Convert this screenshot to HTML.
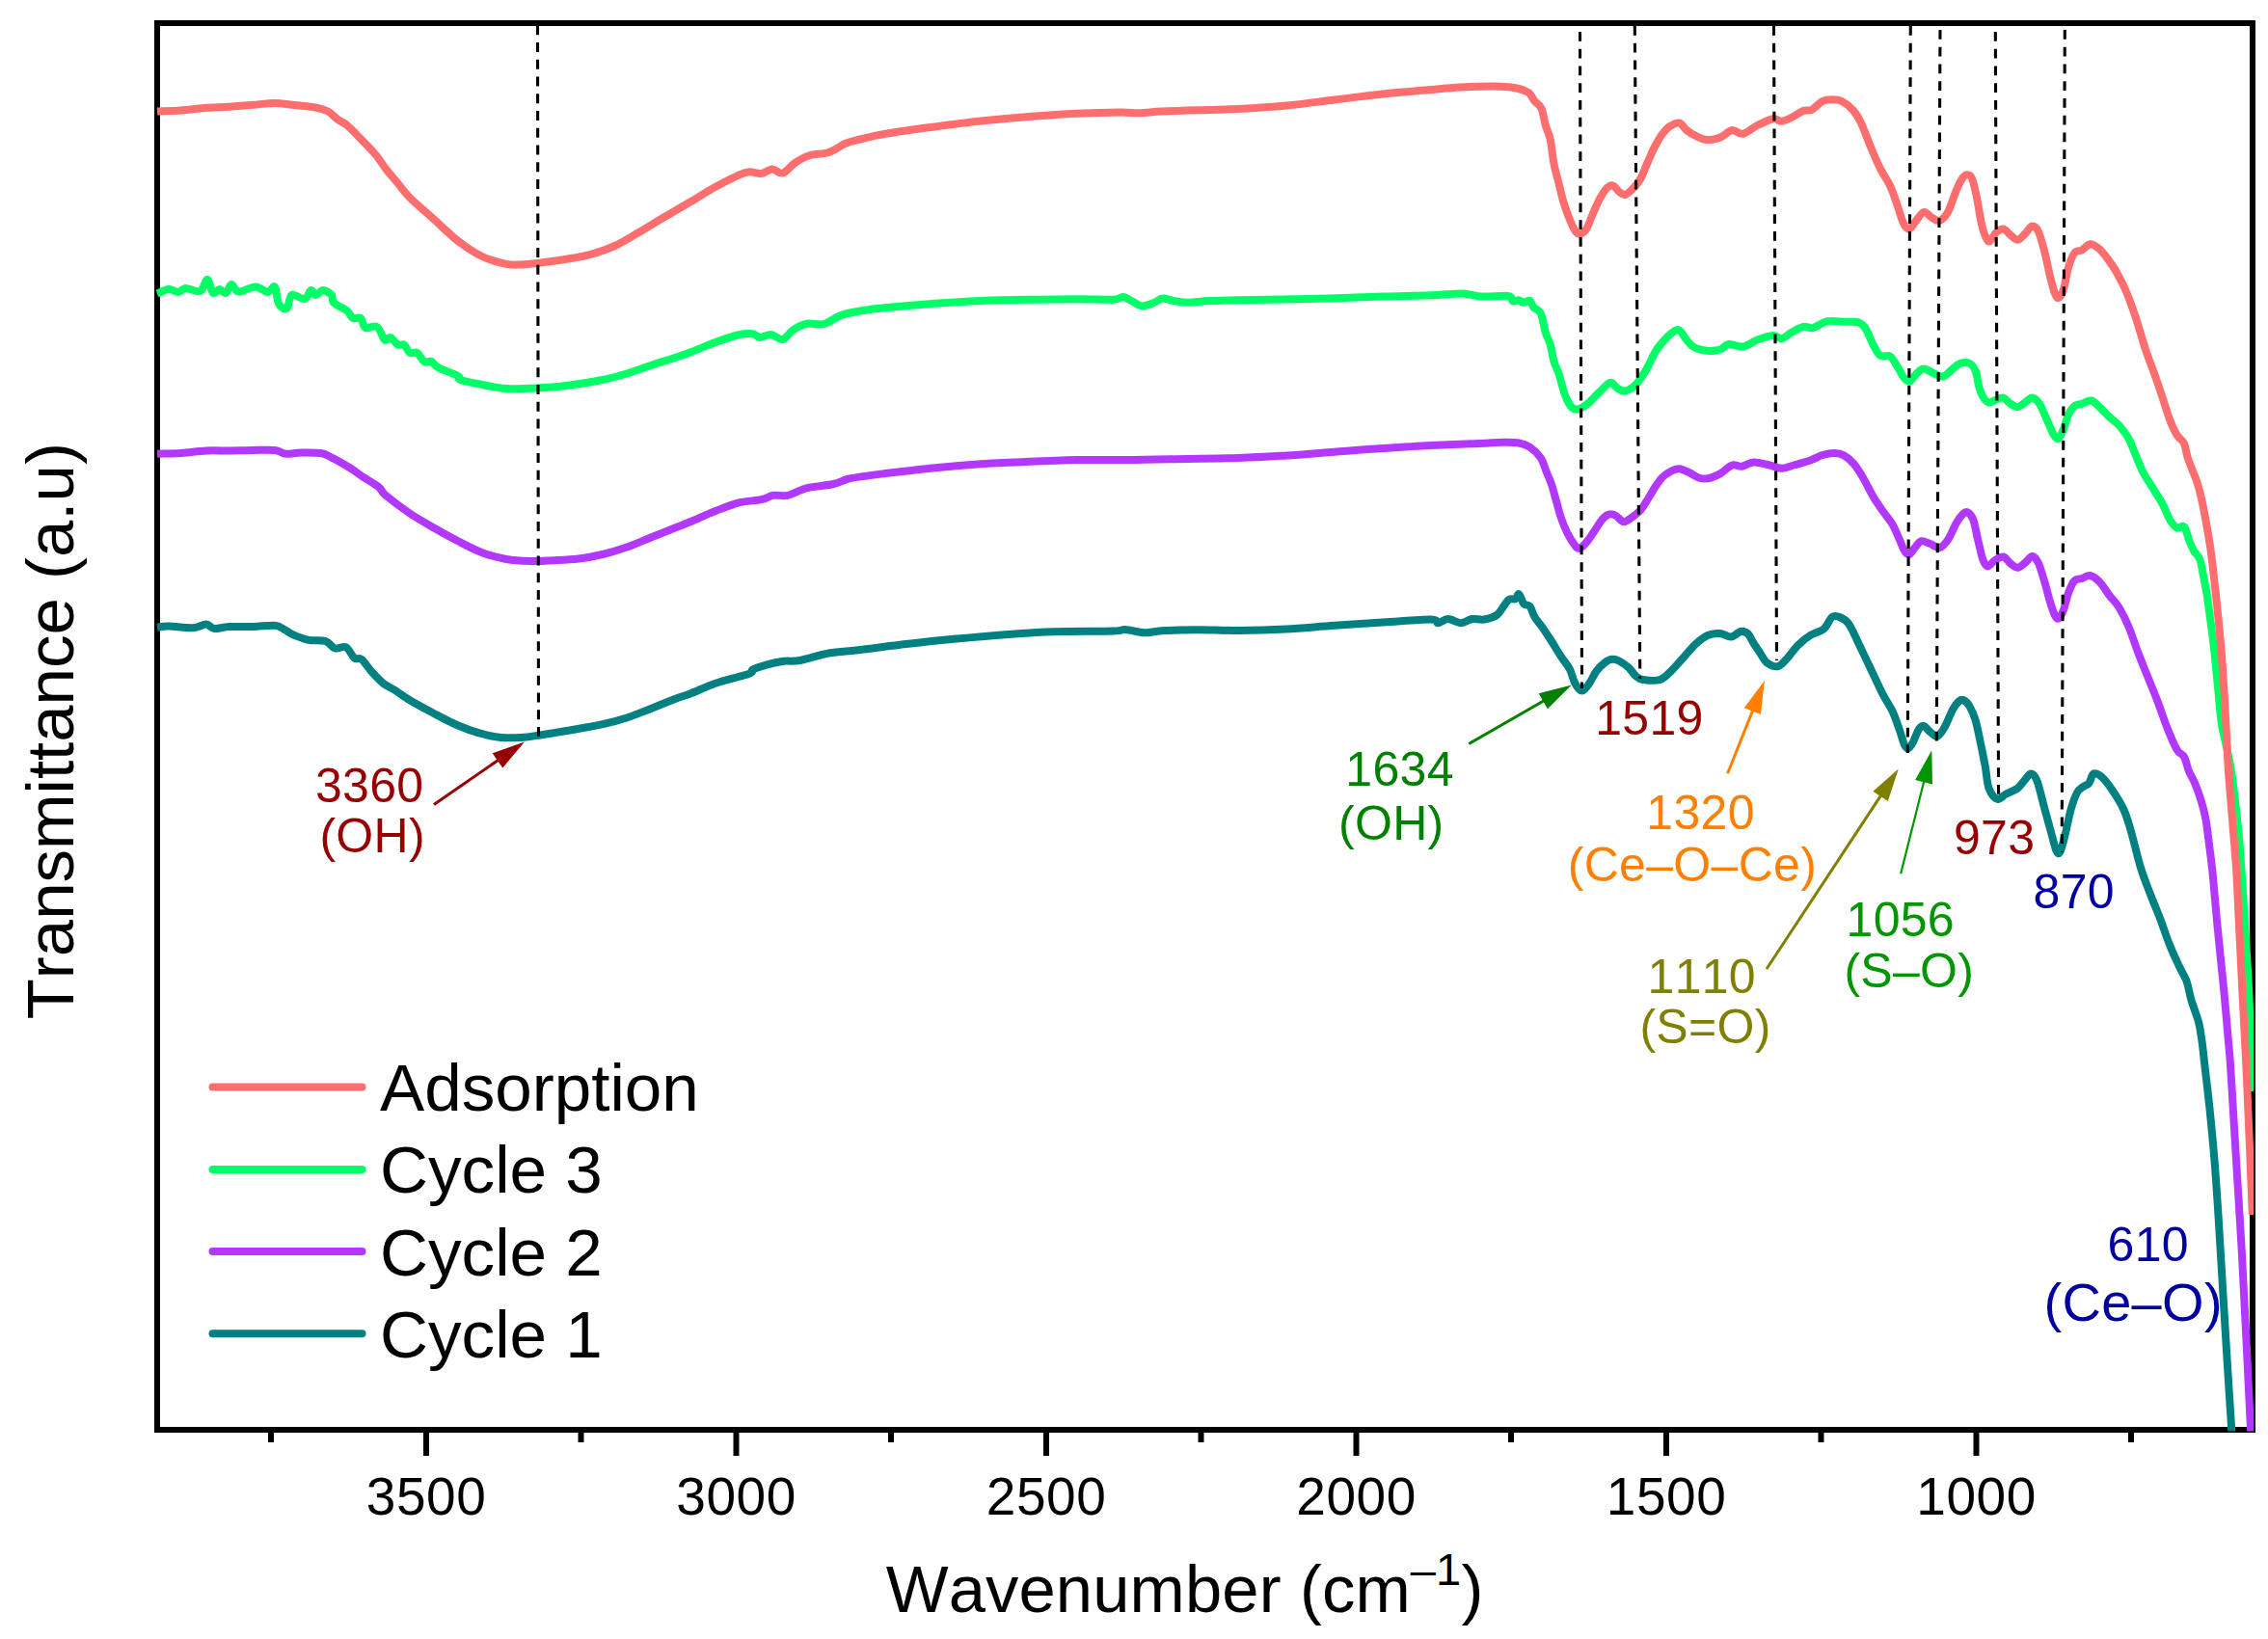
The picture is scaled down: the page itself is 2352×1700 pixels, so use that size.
<!DOCTYPE html><html><head><meta charset="utf-8"><title>FTIR spectra</title>
<style>html,body{margin:0;padding:0;background:#fff;overflow:hidden;width:2352px;height:1700px;}svg{display:block}text{font-family:"Liberation Sans",sans-serif;font-kerning:none;}</style></head><body>
<svg width="2352" height="1700" viewBox="0 0 2352 1700">
<rect width="2352" height="1700" fill="#fff"/>
<defs><clipPath id="cp"><rect x="160" y="21" width="2177" height="1463.5"/></clipPath></defs>
<rect x="163" y="24" width="2173" height="1459" fill="none" stroke="#000" stroke-width="6"/>
<line x1="442" y1="1483" x2="442" y2="1510" stroke="#000" stroke-width="6"/>
<line x1="763.5" y1="1483" x2="763.5" y2="1510" stroke="#000" stroke-width="6"/>
<line x1="1085" y1="1483" x2="1085" y2="1510" stroke="#000" stroke-width="6"/>
<line x1="1406.5" y1="1483" x2="1406.5" y2="1510" stroke="#000" stroke-width="6"/>
<line x1="1728" y1="1483" x2="1728" y2="1510" stroke="#000" stroke-width="6"/>
<line x1="2049.5" y1="1483" x2="2049.5" y2="1510" stroke="#000" stroke-width="6"/>
<line x1="281" y1="1483" x2="281" y2="1496" stroke="#000" stroke-width="6"/>
<line x1="602.5" y1="1483" x2="602.5" y2="1496" stroke="#000" stroke-width="6"/>
<line x1="924" y1="1483" x2="924" y2="1496" stroke="#000" stroke-width="6"/>
<line x1="1245.5" y1="1483" x2="1245.5" y2="1496" stroke="#000" stroke-width="6"/>
<line x1="1567" y1="1483" x2="1567" y2="1496" stroke="#000" stroke-width="6"/>
<line x1="1888.5" y1="1483" x2="1888.5" y2="1496" stroke="#000" stroke-width="6"/>
<line x1="2210" y1="1483" x2="2210" y2="1496" stroke="#000" stroke-width="6"/>
<text x="442.1" y="1571.3" font-size="55" letter-spacing="0.6" text-anchor="middle" fill="#000">3500</text>
<text x="763.6" y="1571.3" font-size="55" letter-spacing="0.6" text-anchor="middle" fill="#000">3000</text>
<text x="1085.1" y="1571.3" font-size="55" letter-spacing="0.6" text-anchor="middle" fill="#000">2500</text>
<text x="1406.6" y="1571.3" font-size="55" letter-spacing="0.6" text-anchor="middle" fill="#000">2000</text>
<text x="1728.1" y="1571.3" font-size="55" letter-spacing="0.6" text-anchor="middle" fill="#000">1500</text>
<text x="2049.6" y="1571.3" font-size="55" letter-spacing="0.6" text-anchor="middle" fill="#000">1000</text>
<text x="918.7" y="1671.5" font-size="68.7" letter-spacing="0.15" fill="#000">Wavenumber (cm<tspan font-size="47" dy="-27.9">–1</tspan><tspan dy="27.9">)</tspan></text>
<text transform="translate(75.5 758.2) rotate(-90)" font-size="69" text-anchor="middle" fill="#000">Transmittance (a.u)</text>
<g clip-path="url(#cp)" fill="none" stroke-width="8" stroke-linejoin="round" stroke-linecap="butt">
<path d="M163.0 650.8C165.0 650.5 168.8 649.4 175.0 649.5C181.2 649.6 193.5 651.6 200.0 651.2C206.5 650.9 210.0 647.4 213.8 647.5C217.5 647.6 218.5 651.6 222.5 652.0C226.5 652.4 230.8 650.3 237.5 650.0C244.2 649.7 254.6 650.2 262.5 650.0C270.4 649.8 279.6 648.2 285.0 648.8C290.4 649.2 291.7 651.3 295.0 653.0C298.3 654.7 300.8 657.0 305.0 658.8C309.2 660.5 314.6 662.7 320.0 663.8C325.4 664.8 332.9 663.5 337.5 665.0C342.1 666.5 344.0 671.5 347.5 672.5C351.0 673.5 355.4 669.6 358.8 671.2C362.1 672.9 364.8 680.4 367.5 682.5C370.2 684.6 372.1 681.5 375.0 683.8C377.9 686.0 381.2 692.1 385.0 696.2C388.8 700.4 393.3 705.4 397.5 708.8C401.7 712.1 405.4 713.3 410.0 716.2C414.6 719.2 418.3 722.3 425.0 726.2C431.7 730.2 441.7 735.6 450.0 740.0C458.3 744.4 466.7 749.0 475.0 752.5C483.3 756.0 492.5 759.2 500.0 761.2C507.5 763.3 513.3 764.4 520.0 765.0C526.7 765.6 533.3 765.4 540.0 765.0C546.7 764.6 552.1 763.7 560.0 762.5C567.9 761.3 576.7 759.9 587.5 758.0C598.3 756.1 614.6 753.5 625.0 751.2C635.4 749.0 641.7 747.2 650.0 744.5C658.3 741.8 666.7 738.2 675.0 735.0C683.3 731.8 693.0 727.7 700.0 725.0C707.0 722.3 710.0 721.7 717.0 719.0C724.0 716.3 732.0 712.1 742.0 708.8C752.0 705.4 770.3 701.2 777.0 698.8C783.7 696.2 776.6 695.8 782.0 693.8C787.4 691.7 801.6 687.7 809.5 686.2C817.4 684.8 821.2 686.5 829.5 685.0C837.8 683.5 849.1 679.3 859.5 677.5C869.9 675.7 878.2 675.6 892.0 674.0C905.8 672.4 925.3 669.7 942.0 667.8C958.7 665.9 975.3 664.2 992.0 662.6C1008.7 661.0 1025.3 659.5 1042.0 658.3C1058.7 657.1 1073.2 655.8 1092.0 655.2C1110.8 654.6 1142.0 654.9 1154.5 654.5C1167.0 654.1 1161.6 652.7 1167.0 653.0C1172.4 653.3 1180.8 656.0 1187.0 656.2C1193.2 656.5 1195.3 654.8 1204.5 654.2C1213.7 653.8 1228.8 653.3 1242.0 653.2C1255.2 653.2 1268.7 654.1 1284.0 654.0C1299.3 653.9 1317.3 653.4 1334.0 652.5C1350.7 651.6 1367.3 649.9 1384.0 648.8C1400.7 647.6 1417.3 646.5 1434.0 645.5C1450.7 644.5 1474.4 642.4 1484.0 642.5C1493.6 642.6 1488.6 646.3 1491.5 646.2C1494.4 646.2 1497.5 642.0 1501.5 642.0C1505.5 642.0 1511.1 646.2 1515.2 646.2C1519.4 646.2 1522.5 642.6 1526.5 642.0C1530.5 641.4 1534.6 643.2 1539.0 642.5C1543.4 641.8 1548.6 640.8 1552.8 637.5C1556.9 634.2 1560.9 625.2 1564.0 622.5C1567.1 619.8 1569.6 622.3 1571.5 621.2C1573.4 620.2 1573.8 615.4 1575.2 616.2C1576.7 617.1 1578.4 624.2 1580.2 626.2C1582.1 628.3 1584.6 626.5 1586.5 628.8C1588.4 631.0 1589.4 636.5 1591.5 640.0C1593.6 643.5 1596.1 645.8 1599.0 650.0C1601.9 654.2 1605.7 659.8 1609.0 665.0C1612.3 670.2 1615.9 676.5 1619.0 681.2C1622.1 686.0 1625.5 689.4 1627.8 693.8C1630.0 698.1 1631.1 704.0 1632.8 707.5C1634.4 711.0 1636.2 713.6 1637.8 715.0C1639.3 716.4 1640.2 717.0 1642.0 716.0C1643.8 715.0 1646.0 712.0 1648.2 708.8C1650.5 705.5 1652.9 699.8 1655.5 696.2C1658.1 692.7 1661.3 689.6 1664.0 687.5C1666.7 685.4 1669.0 684.1 1671.5 683.8C1674.0 683.4 1676.1 684.0 1679.0 685.5C1681.9 687.0 1686.1 689.9 1689.0 692.5C1691.9 695.1 1694.0 699.2 1696.5 701.2C1699.0 703.3 1699.8 704.4 1704.0 705.0C1708.2 705.6 1716.5 706.7 1721.5 705.0C1726.5 703.3 1729.8 699.0 1734.0 695.0C1738.2 691.0 1742.3 685.8 1746.5 681.2C1750.7 676.7 1754.8 671.2 1759.0 667.5C1763.2 663.8 1767.3 660.5 1771.5 658.8C1775.7 657.0 1780.0 656.7 1784.0 657.0C1788.0 657.3 1791.7 660.8 1795.2 660.5C1798.8 660.2 1802.3 655.5 1805.2 655.0C1808.2 654.5 1810.5 655.4 1812.8 657.5C1815.0 659.6 1816.5 664.0 1818.8 667.5C1821.0 671.0 1824.0 675.4 1826.2 678.8C1828.5 682.1 1829.6 685.4 1832.5 687.5C1835.4 689.6 1840.4 691.9 1843.8 691.2C1847.1 690.6 1849.0 687.5 1852.5 683.8C1856.0 680.0 1860.8 672.9 1865.0 668.8C1869.2 664.6 1873.1 661.5 1877.5 658.8C1881.9 656.0 1887.5 655.6 1891.2 652.5C1895.0 649.4 1897.1 642.0 1900.0 640.0C1902.9 638.0 1905.8 639.2 1908.8 640.5C1911.7 641.8 1914.4 643.0 1917.5 647.5C1920.6 652.0 1923.8 659.8 1927.5 667.5C1931.2 675.2 1935.8 685.0 1940.0 693.8C1944.2 702.5 1948.8 712.7 1952.5 720.0C1956.2 727.3 1959.6 731.2 1962.5 737.5C1965.4 743.8 1967.9 751.7 1970.0 757.5C1972.1 763.3 1973.5 769.4 1975.0 772.5C1976.5 775.6 1977.3 776.7 1978.8 776.2C1980.2 775.8 1981.9 773.3 1983.8 770.0C1985.6 766.7 1988.1 759.1 1990.0 756.2C1991.9 753.4 1993.1 752.6 1995.0 753.0C1996.9 753.4 1999.0 757.0 2001.2 758.8C2003.5 760.5 2006.2 764.4 2008.8 763.8C2011.2 763.1 2013.5 759.6 2016.2 755.0C2019.0 750.4 2022.5 740.8 2025.0 736.2C2027.5 731.7 2029.4 729.2 2031.2 727.5C2033.1 725.8 2034.4 725.4 2036.2 726.2C2038.1 727.1 2040.4 729.0 2042.5 732.5C2044.6 736.0 2046.9 741.2 2048.8 747.5C2050.6 753.8 2052.1 762.1 2053.8 770.0C2055.4 777.9 2057.3 787.1 2058.8 795.0C2060.2 802.9 2060.4 811.9 2062.5 817.5C2064.6 823.1 2068.3 827.7 2071.2 828.8C2074.2 829.8 2076.5 825.6 2080.0 823.8C2083.5 821.9 2089.2 820.0 2092.5 817.5C2095.8 815.0 2097.7 811.2 2100.0 808.8C2102.3 806.2 2104.2 802.3 2106.2 802.5C2108.3 802.7 2110.2 804.2 2112.5 810.0C2114.8 815.8 2117.5 828.3 2120.0 837.5C2122.5 846.7 2125.4 857.5 2127.5 865.0C2129.6 872.5 2131.0 879.4 2132.5 882.5C2134.0 885.6 2134.8 886.2 2136.2 883.8C2137.7 881.2 2139.4 874.8 2141.2 867.5C2143.1 860.2 2145.4 847.5 2147.5 840.0C2149.6 832.5 2151.7 826.5 2153.8 822.5C2155.8 818.5 2157.9 817.9 2160.0 816.2C2162.1 814.6 2164.4 814.8 2166.2 812.5C2168.1 810.2 2169.0 803.5 2171.2 802.5C2173.5 801.5 2176.9 803.5 2180.0 806.2C2183.1 809.0 2186.2 813.1 2190.0 818.8C2193.8 824.4 2199.2 832.7 2202.5 840.0C2205.8 847.3 2207.1 852.5 2210.0 862.5C2212.9 872.5 2216.7 889.2 2220.0 900.0C2223.3 910.8 2226.7 918.8 2230.0 927.5C2233.3 936.2 2236.7 943.8 2240.0 952.5C2243.3 961.2 2246.7 971.7 2250.0 980.0C2253.3 988.3 2257.1 996.2 2260.0 1002.5C2262.9 1008.8 2265.4 1011.7 2267.5 1017.5C2269.6 1023.3 2270.4 1030.4 2272.5 1037.5C2274.6 1044.6 2278.2 1052.9 2280.0 1060.0C2281.8 1067.1 2282.5 1073.3 2283.5 1080.0C2284.5 1086.7 2284.5 1088.3 2285.8 1100.0C2287.1 1111.7 2289.8 1133.3 2291.5 1150.0C2293.2 1166.7 2294.8 1183.3 2296.2 1200.0C2297.6 1216.7 2298.7 1233.3 2299.8 1250.0C2300.9 1266.7 2301.8 1281.7 2302.9 1300.0C2304.0 1318.3 2305.2 1339.2 2306.5 1360.0C2307.8 1380.8 2309.2 1404.6 2310.5 1425.0C2311.8 1445.4 2313.5 1471.3 2314.2 1482.5C2314.9 1493.7 2314.7 1490.4 2314.8 1492.0" stroke="#008080"/>
<path d="M163.0 470.8C167.1 470.6 179.0 470.5 187.5 470.0C196.0 469.5 205.4 467.9 213.8 467.5C222.1 467.1 229.4 467.6 237.5 467.5C245.6 467.4 254.6 467.1 262.5 467.0C270.4 466.9 279.4 466.4 285.0 467.0C290.6 467.6 291.7 470.3 296.2 470.8C300.8 471.2 306.5 469.6 312.5 469.5C318.5 469.4 327.5 469.3 332.5 470.0C337.5 470.7 337.5 471.2 342.5 473.8C347.5 476.2 357.1 481.7 362.5 485.0C367.9 488.3 370.0 490.4 375.0 493.8C380.0 497.1 388.3 501.7 392.5 505.0C396.7 508.3 394.6 509.2 400.0 513.8C405.4 518.3 416.7 526.9 425.0 532.5C433.3 538.1 441.7 542.7 450.0 547.5C458.3 552.3 466.7 557.0 475.0 561.2C483.3 565.5 491.7 570.1 500.0 573.2C508.3 576.4 516.7 578.5 525.0 580.0C533.3 581.5 541.7 581.8 550.0 582.0C558.3 582.2 566.7 581.7 575.0 581.2C583.3 580.8 591.7 580.5 600.0 579.5C608.3 578.5 616.7 577.0 625.0 575.0C633.3 573.0 641.7 570.4 650.0 567.5C658.3 564.6 666.7 560.8 675.0 557.5C683.3 554.2 693.0 550.3 700.0 547.5C707.0 544.7 710.0 543.7 717.0 540.8C724.0 537.8 733.7 533.2 742.0 530.0C750.3 526.8 759.1 523.2 767.0 521.2C774.9 519.3 783.7 519.5 789.5 518.2C795.3 517.0 797.4 514.5 802.0 513.8C806.6 513.0 811.2 515.0 817.0 513.8C822.8 512.5 829.1 508.2 837.0 506.2C844.9 504.3 857.0 503.7 864.5 502.0C872.0 500.3 873.2 498.0 882.0 496.2C890.8 494.5 902.8 493.0 917.0 491.2C931.2 489.5 950.3 487.2 967.0 485.5C983.7 483.8 1000.3 482.4 1017.0 481.2C1033.7 480.1 1050.3 479.5 1067.0 478.8C1083.7 478.0 1100.3 477.3 1117.0 477.0C1133.7 476.7 1150.3 477.1 1167.0 477.0C1183.7 476.9 1197.5 476.6 1217.0 476.2C1236.5 475.9 1264.5 475.6 1284.0 475.0C1303.5 474.4 1317.3 473.5 1334.0 472.5C1350.7 471.5 1367.3 470.0 1384.0 468.8C1400.7 467.5 1417.3 466.1 1434.0 465.0C1450.7 463.9 1467.3 462.8 1484.0 462.0C1500.7 461.2 1521.5 460.5 1534.0 460.0C1546.5 459.5 1552.1 458.8 1559.0 458.8C1565.9 458.7 1570.7 458.7 1575.2 459.5C1579.8 460.3 1582.8 461.2 1586.5 463.8C1590.2 466.3 1594.8 470.6 1597.8 475.0C1600.7 479.4 1602.1 485.4 1604.0 490.0C1605.9 494.6 1607.3 497.5 1609.0 502.5C1610.7 507.5 1612.3 514.2 1614.0 520.0C1615.7 525.8 1617.1 532.1 1619.0 537.5C1620.9 542.9 1623.0 547.9 1625.2 552.5C1627.5 557.1 1630.7 562.3 1632.8 565.0C1634.8 567.7 1635.7 569.2 1637.8 568.8C1639.8 568.3 1642.5 565.6 1645.2 562.5C1648.0 559.4 1651.3 554.0 1654.0 550.0C1656.7 546.0 1659.2 541.5 1661.5 538.8C1663.8 536.0 1665.5 534.5 1667.8 533.8C1670.0 533.0 1672.5 533.2 1675.2 534.5C1678.0 535.8 1681.1 541.0 1684.0 541.2C1686.9 541.5 1689.8 538.3 1692.8 536.2C1695.7 534.2 1698.8 531.9 1701.5 528.8C1704.2 525.6 1706.5 521.5 1709.0 517.5C1711.5 513.5 1714.0 508.8 1716.5 505.0C1719.0 501.2 1721.3 497.7 1724.0 495.0C1726.7 492.3 1729.8 490.2 1732.8 488.8C1735.7 487.3 1738.4 486.0 1741.5 486.2C1744.6 486.5 1748.2 488.5 1751.5 490.0C1754.8 491.5 1758.2 494.5 1761.5 495.5C1764.8 496.5 1767.8 497.0 1771.5 496.2C1775.2 495.5 1779.9 493.5 1784.0 491.2C1788.1 489.0 1792.5 483.8 1796.2 482.5C1800.0 481.2 1802.5 484.2 1806.2 483.8C1810.0 483.2 1814.0 479.7 1818.8 479.5C1823.5 479.3 1830.2 481.5 1835.0 482.5C1839.8 483.5 1843.3 485.8 1847.5 485.8C1851.7 485.8 1855.0 483.9 1860.0 482.5C1865.0 481.1 1872.5 479.2 1877.5 477.5C1882.5 475.8 1885.8 473.2 1890.0 472.0C1894.2 470.8 1898.8 469.9 1902.5 470.0C1906.2 470.1 1909.2 470.6 1912.5 472.5C1915.8 474.4 1919.2 477.3 1922.5 481.2C1925.8 485.2 1929.2 490.6 1932.5 496.2C1935.8 501.9 1939.2 509.4 1942.5 515.0C1945.8 520.6 1949.2 525.2 1952.5 530.0C1955.8 534.8 1959.6 538.8 1962.5 543.8C1965.4 548.8 1967.9 555.4 1970.0 560.0C1972.1 564.6 1973.3 568.8 1975.0 571.2C1976.7 573.8 1978.1 575.6 1980.0 575.0C1981.9 574.4 1984.2 569.8 1986.2 567.5C1988.3 565.2 1990.0 561.9 1992.5 561.2C1995.0 560.6 1998.1 562.6 2001.2 563.8C2004.4 564.9 2008.1 568.6 2011.2 568.0C2014.4 567.4 2017.1 564.2 2020.0 560.0C2022.9 555.8 2026.2 546.9 2028.8 542.5C2031.2 538.1 2033.1 535.6 2035.0 533.8C2036.9 531.9 2038.1 530.4 2040.0 531.2C2041.9 532.1 2044.4 534.0 2046.2 538.8C2048.1 543.5 2049.6 553.1 2051.2 560.0C2052.9 566.9 2054.6 575.4 2056.2 580.0C2057.9 584.6 2059.2 587.3 2061.2 587.5C2063.3 587.7 2066.0 582.9 2068.8 581.2C2071.5 579.6 2074.8 577.0 2077.5 577.5C2080.2 578.0 2082.5 582.6 2085.0 584.5C2087.5 586.4 2090.0 588.9 2092.5 588.8C2095.0 588.6 2097.5 585.7 2100.0 583.8C2102.5 581.8 2105.2 577.0 2107.5 577.0C2109.8 577.0 2111.7 579.5 2113.8 583.8C2115.8 588.0 2117.9 595.6 2120.0 602.5C2122.1 609.4 2124.4 619.0 2126.2 625.0C2128.1 631.0 2129.8 636.0 2131.2 638.8C2132.7 641.5 2133.5 642.3 2135.0 641.2C2136.5 640.2 2138.3 636.9 2140.0 632.5C2141.7 628.1 2143.1 620.0 2145.0 615.0C2146.9 610.0 2149.0 605.0 2151.2 602.5C2153.5 600.0 2156.0 600.9 2158.8 600.0C2161.5 599.1 2164.4 596.4 2167.5 597.0C2170.6 597.6 2174.2 600.3 2177.5 603.8C2180.8 607.2 2184.2 613.1 2187.5 617.5C2190.8 621.9 2194.2 624.6 2197.5 630.0C2200.8 635.4 2204.2 642.1 2207.5 650.0C2210.8 657.9 2214.2 668.8 2217.5 677.5C2220.8 686.2 2224.2 694.2 2227.5 702.5C2230.8 710.8 2234.2 718.8 2237.5 727.5C2240.8 736.2 2244.2 746.7 2247.5 755.0C2250.8 763.3 2254.6 772.5 2257.5 777.5C2260.4 782.5 2262.9 781.2 2265.0 785.0C2267.1 788.8 2268.1 795.4 2270.0 800.0C2271.9 804.6 2274.2 807.5 2276.2 812.5C2278.3 817.5 2280.6 823.8 2282.5 830.0C2284.4 836.2 2286.0 841.7 2287.5 850.0C2289.0 858.3 2290.2 870.0 2291.5 880.0C2292.8 890.0 2293.8 897.5 2295.0 910.0C2296.2 922.5 2297.7 940.8 2299.0 955.0C2300.3 969.2 2301.7 981.7 2303.0 995.0C2304.3 1008.3 2305.8 1021.7 2307.0 1035.0C2308.2 1048.3 2309.6 1064.2 2310.5 1075.0C2311.4 1085.8 2311.8 1087.5 2312.7 1100.0C2313.6 1112.5 2314.8 1133.3 2315.8 1150.0C2316.8 1166.7 2317.8 1183.3 2318.8 1200.0C2319.8 1216.7 2320.9 1233.3 2321.9 1250.0C2322.9 1266.7 2323.7 1278.3 2324.9 1300.0C2326.1 1321.7 2327.5 1349.6 2329.0 1380.0C2330.5 1410.4 2333.1 1463.8 2334.0 1482.5C2334.9 1501.2 2334.4 1490.4 2334.5 1492.0" stroke="#B338FF"/>
<path d="M163.0 304.5C165.0 303.8 171.3 300.2 175.0 300.0C178.7 299.8 182.1 303.2 185.0 303.0C187.9 302.8 188.8 299.2 192.5 299.0C196.2 298.8 203.8 303.5 207.5 302.0C211.2 300.5 212.8 289.7 215.0 290.0C217.2 290.3 218.9 302.3 221.0 304.0C223.1 305.7 225.3 300.0 227.5 300.0C229.7 300.0 231.9 304.8 234.0 304.0C236.1 303.2 237.8 295.2 240.0 295.0C242.2 294.8 243.3 302.1 247.5 302.5C251.7 302.9 260.0 297.4 265.0 297.5C270.0 297.6 274.2 303.0 277.5 303.0C280.8 303.0 283.1 295.5 285.0 297.5C286.9 299.5 286.9 311.2 289.0 315.0C291.1 318.8 295.2 321.5 297.5 320.0C299.8 318.5 299.4 307.7 302.5 306.0C305.6 304.3 312.7 310.8 316.0 310.0C319.3 309.2 320.6 301.7 322.5 301.0C324.4 300.3 325.4 306.0 327.5 306.0C329.6 306.0 332.2 301.0 335.0 301.0C337.8 301.0 342.2 303.8 344.0 306.0C345.8 308.2 343.3 311.2 346.0 314.0C348.7 316.8 356.7 319.8 360.0 322.5C363.3 325.2 363.7 328.8 366.0 330.0C368.3 331.2 371.8 328.3 374.0 330.0C376.2 331.7 376.2 338.5 379.0 340.0C381.8 341.5 387.7 336.9 391.0 339.0C394.3 341.1 396.7 350.7 399.0 352.5C401.3 354.3 402.8 349.2 405.0 350.0C407.2 350.8 410.2 356.2 412.5 357.5C414.8 358.8 416.9 356.1 419.0 357.5C421.1 358.9 422.8 364.6 425.0 366.0C427.2 367.4 430.0 364.5 432.5 366.0C435.0 367.5 437.5 373.5 440.0 375.0C442.5 376.5 445.2 374.0 447.5 375.0C449.8 376.0 449.4 378.5 454.0 381.0C458.6 383.5 471.1 387.8 475.0 390.0C478.9 392.2 473.3 392.5 477.5 394.0C481.7 395.5 492.1 397.5 500.0 399.0C507.9 400.5 515.4 402.4 525.0 403.0C534.6 403.6 547.1 403.0 557.5 402.5C567.9 402.0 576.2 401.4 587.5 400.0C598.8 398.6 614.6 396.1 625.0 394.0C635.4 391.9 641.7 390.0 650.0 387.5C658.3 385.0 666.7 381.8 675.0 379.0C683.3 376.2 693.0 373.3 700.0 371.0C707.0 368.7 710.0 367.7 717.0 365.0C724.0 362.3 733.7 358.0 742.0 355.0C750.3 352.0 760.5 348.5 767.0 347.0C773.5 345.5 777.2 345.8 780.8 346.2C784.2 346.8 784.9 349.9 788.0 350.0C791.1 350.1 795.5 346.7 799.5 347.0C803.5 347.3 808.2 352.8 812.0 352.0C815.8 351.2 817.8 345.2 822.0 342.5C826.2 339.8 831.6 336.8 837.0 335.8C842.4 334.7 848.7 337.7 854.5 336.2C860.3 334.8 865.8 329.3 872.0 327.0C878.2 324.7 884.5 323.8 892.0 322.5C899.5 321.2 904.5 320.5 917.0 319.2C929.5 318.0 950.3 316.2 967.0 315.0C983.7 313.8 1000.3 312.7 1017.0 312.0C1033.7 311.3 1050.3 311.0 1067.0 310.8C1083.7 310.5 1102.4 310.2 1117.0 310.2C1131.6 310.2 1146.6 311.1 1154.5 310.8C1162.4 310.4 1161.2 307.7 1164.5 308.0C1167.8 308.3 1171.2 310.9 1174.5 312.5C1177.8 314.1 1180.8 317.3 1184.5 317.5C1188.2 317.7 1193.5 315.1 1197.0 313.8C1200.5 312.4 1202.4 309.8 1205.8 309.5C1209.1 309.2 1212.6 311.3 1217.0 312.0C1221.4 312.7 1225.8 313.8 1232.0 313.8C1238.2 313.8 1245.8 312.4 1254.5 312.0C1263.2 311.6 1266.6 311.6 1284.0 311.2C1301.4 310.9 1334.0 310.6 1359.0 310.0C1384.0 309.4 1413.2 308.1 1434.0 307.5C1454.8 306.9 1470.2 306.8 1484.0 306.2C1497.8 305.8 1507.8 304.3 1516.5 304.5C1525.2 304.7 1528.6 307.1 1536.5 307.5C1544.4 307.9 1558.6 306.2 1564.0 307.0C1569.4 307.8 1567.1 311.8 1569.0 312.5C1570.9 313.2 1573.6 311.0 1575.2 311.2C1576.9 311.5 1577.1 313.6 1579.0 313.8C1580.9 313.9 1584.6 311.2 1586.5 312.0C1588.4 312.8 1588.4 316.6 1590.2 318.8C1592.1 320.9 1595.7 320.6 1597.8 325.0C1599.8 329.4 1601.1 339.6 1602.8 345.0C1604.4 350.4 1606.3 352.5 1607.8 357.5C1609.2 362.5 1610.0 370.0 1611.5 375.0C1613.0 380.0 1615.1 383.3 1616.5 387.5C1617.9 391.7 1618.8 395.8 1620.0 400.0C1621.2 404.2 1622.3 408.8 1624.0 412.5C1625.7 416.2 1627.9 420.5 1630.0 422.5C1632.1 424.5 1633.8 425.1 1636.5 424.5C1639.2 423.9 1643.6 421.0 1646.5 418.8C1649.4 416.5 1651.5 413.8 1654.0 411.2C1656.5 408.8 1659.3 405.9 1661.5 403.8C1663.7 401.6 1665.3 399.6 1667.0 398.5C1668.7 397.4 1669.7 396.2 1671.5 397.0C1673.3 397.8 1675.5 401.6 1677.8 403.0C1680.0 404.4 1682.5 405.8 1685.2 405.5C1688.0 405.2 1691.3 403.2 1694.0 401.0C1696.7 398.8 1699.0 396.0 1701.5 392.5C1704.0 389.0 1706.5 384.6 1709.0 380.0C1711.5 375.4 1714.0 369.2 1716.5 365.0C1719.0 360.8 1721.1 358.3 1724.0 355.0C1726.9 351.7 1731.1 347.1 1734.0 345.0C1736.9 342.9 1739.0 341.2 1741.5 342.5C1744.0 343.8 1746.5 349.6 1749.0 352.5C1751.5 355.4 1753.0 358.1 1756.5 360.0C1760.0 361.9 1765.7 363.3 1770.2 363.8C1774.8 364.2 1780.0 363.6 1783.8 362.5C1787.5 361.4 1788.5 357.5 1792.5 357.0C1796.5 356.5 1802.5 360.2 1807.5 359.5C1812.5 358.8 1817.3 354.4 1822.5 352.5C1827.7 350.6 1834.6 348.2 1838.8 348.0C1842.9 347.8 1844.4 351.8 1847.5 351.2C1850.6 350.8 1853.8 347.1 1857.5 345.0C1861.2 342.9 1866.2 339.6 1870.0 338.8C1873.8 337.9 1875.8 340.9 1880.0 340.0C1884.2 339.1 1889.6 334.3 1895.0 333.2C1900.4 332.2 1907.1 333.5 1912.5 333.8C1917.9 334.0 1923.8 333.2 1927.5 334.5C1931.2 335.8 1932.5 337.4 1935.0 341.2C1937.5 345.1 1940.0 352.9 1942.5 357.5C1945.0 362.1 1947.1 366.8 1950.0 368.8C1952.9 370.8 1957.1 367.6 1960.0 369.5C1962.9 371.4 1965.0 376.2 1967.5 380.0C1970.0 383.8 1972.7 390.0 1975.0 392.5C1977.3 395.0 1979.2 395.8 1981.2 395.0C1983.3 394.2 1985.2 389.6 1987.5 387.5C1989.8 385.4 1992.1 382.6 1995.0 382.5C1997.9 382.4 2001.7 385.7 2005.0 387.0C2008.3 388.3 2011.7 391.2 2015.0 390.5C2018.3 389.8 2022.1 384.8 2025.0 382.5C2027.9 380.2 2029.6 377.9 2032.5 377.0C2035.4 376.1 2039.8 375.7 2042.5 377.0C2045.2 378.3 2047.2 381.2 2048.8 385.0C2050.3 388.8 2050.8 395.6 2052.0 400.0C2053.2 404.4 2054.5 408.3 2056.2 411.2C2058.0 414.2 2060.2 417.0 2062.5 417.5C2064.8 418.0 2067.5 415.3 2070.0 414.5C2072.5 413.7 2075.0 411.8 2077.5 412.5C2080.0 413.2 2082.5 417.2 2085.0 418.8C2087.5 420.3 2090.0 422.2 2092.5 422.0C2095.0 421.8 2097.5 419.1 2100.0 417.5C2102.5 415.9 2105.0 412.3 2107.5 412.5C2110.0 412.7 2112.5 415.0 2115.0 418.8C2117.5 422.5 2120.0 429.6 2122.5 435.0C2125.0 440.4 2127.9 448.0 2130.0 451.2C2132.1 454.5 2133.3 455.5 2135.0 454.5C2136.7 453.5 2138.3 449.1 2140.0 445.0C2141.7 440.9 2143.1 434.0 2145.0 430.0C2146.9 426.0 2149.0 423.1 2151.2 421.2C2153.5 419.4 2155.8 419.7 2158.8 418.8C2161.7 417.8 2165.6 414.9 2168.8 415.5C2171.9 416.1 2174.4 419.7 2177.5 422.5C2180.6 425.3 2184.2 429.4 2187.5 432.5C2190.8 435.6 2194.2 437.5 2197.5 441.2C2200.8 445.0 2204.6 449.8 2207.5 455.0C2210.4 460.2 2212.5 466.7 2215.0 472.5C2217.5 478.3 2219.6 484.4 2222.5 490.0C2225.4 495.6 2229.2 500.8 2232.5 506.2C2235.8 511.7 2239.6 517.1 2242.5 522.5C2245.4 527.9 2247.5 534.6 2250.0 538.8C2252.5 542.9 2255.0 546.2 2257.5 547.5C2260.0 548.8 2262.9 544.2 2265.0 546.2C2267.1 548.3 2268.3 555.8 2270.0 560.0C2271.7 564.2 2273.1 567.9 2275.0 571.2C2276.9 574.6 2279.6 575.6 2281.2 580.0C2282.9 584.4 2283.8 591.2 2285.0 597.5C2286.2 603.8 2287.5 609.6 2288.8 617.5C2290.0 625.4 2291.2 635.4 2292.5 645.0C2293.8 654.6 2295.0 663.8 2296.2 675.0C2297.5 686.2 2298.8 700.0 2300.0 712.5C2301.2 725.0 2302.2 739.6 2303.8 750.0C2305.2 760.4 2307.3 766.7 2309.0 775.0C2310.7 783.3 2312.3 789.2 2314.0 800.0C2315.7 810.8 2317.6 827.5 2319.0 840.0C2320.4 852.5 2321.3 860.8 2322.5 875.0C2323.7 889.2 2324.9 908.3 2326.0 925.0C2327.1 941.7 2328.0 958.3 2329.0 975.0C2330.0 991.7 2331.2 1008.3 2332.0 1025.0C2332.8 1041.7 2333.4 1057.2 2334.0 1075.0C2334.6 1092.8 2335.2 1122.5 2335.5 1132.0" stroke="#00FF66"/>
<path d="M163.0 115.5C167.1 115.3 179.2 115.1 187.5 114.5C195.8 113.9 204.2 112.6 212.5 112.0C220.8 111.4 229.2 111.3 237.5 110.8C245.8 110.2 254.6 109.4 262.5 108.8C270.4 108.1 277.9 107.0 285.0 107.0C292.1 107.0 297.9 108.2 305.0 109.0C312.1 109.8 321.7 110.4 327.5 111.5C333.3 112.6 336.2 113.5 340.0 115.5C343.8 117.5 346.7 121.3 350.0 123.8C353.3 126.2 355.8 126.5 360.0 130.0C364.2 133.5 370.0 139.8 375.0 145.0C380.0 150.2 385.8 156.0 390.0 161.0C394.2 166.0 396.2 170.2 400.0 175.0C403.8 179.8 408.3 185.0 412.5 190.0C416.7 195.0 418.8 198.8 425.0 205.0C431.2 211.2 441.7 220.0 450.0 227.5C458.3 235.0 466.7 243.6 475.0 250.0C483.3 256.4 491.7 262.0 500.0 266.0C508.3 270.0 518.3 272.3 525.0 273.8C531.7 275.2 534.6 274.6 540.0 274.5C545.4 274.4 549.6 274.0 557.5 273.0C565.4 272.0 578.3 270.3 587.5 268.8C596.7 267.2 604.2 266.0 612.5 263.8C620.8 261.5 629.2 258.8 637.5 255.0C645.8 251.2 654.2 245.8 662.5 241.0C670.8 236.2 678.4 231.4 687.5 226.0C696.6 220.6 707.9 214.1 717.0 208.8C726.1 203.4 733.7 198.3 742.0 193.8C750.3 189.2 761.2 183.8 767.0 181.2C772.8 178.7 773.2 178.5 777.0 178.2C780.8 178.0 785.5 180.5 789.5 180.0C793.5 179.5 797.0 175.6 800.8 175.5C804.5 175.4 808.0 180.6 812.0 179.5C816.0 178.4 819.9 171.8 824.5 168.8C829.1 165.7 833.7 163.0 839.5 161.2C845.3 159.5 853.2 160.1 859.5 158.0C865.8 155.9 871.6 151.0 877.0 148.8C882.4 146.5 885.3 146.1 892.0 144.5C898.7 142.9 904.5 141.1 917.0 139.0C929.5 136.9 950.3 134.0 967.0 131.8C983.7 129.6 1000.3 127.4 1017.0 125.6C1033.7 123.8 1050.3 122.3 1067.0 121.0C1083.7 119.7 1101.2 118.5 1117.0 117.8C1132.8 117.1 1151.2 116.7 1162.0 116.6C1172.8 116.5 1174.9 117.4 1182.0 117.2C1189.1 117.0 1194.5 116.1 1204.5 115.6C1214.5 115.1 1228.8 114.6 1242.0 114.2C1255.2 113.8 1268.7 113.8 1284.0 113.0C1299.3 112.2 1317.3 111.1 1334.0 109.5C1350.7 107.9 1367.3 105.5 1384.0 103.5C1400.7 101.5 1417.3 99.2 1434.0 97.5C1450.7 95.8 1470.7 94.2 1484.0 93.0C1497.3 91.8 1503.2 91.1 1514.0 90.5C1524.8 89.9 1539.4 89.4 1549.0 89.5C1558.6 89.6 1565.5 90.1 1571.5 91.2C1577.5 92.4 1581.9 94.0 1585.2 96.2C1588.6 98.5 1589.3 102.3 1591.5 105.0C1593.7 107.7 1596.6 108.3 1598.5 112.5C1600.4 116.7 1601.2 124.6 1602.8 130.0C1604.3 135.4 1606.3 138.3 1607.8 145.0C1609.2 151.7 1610.0 162.5 1611.5 170.0C1613.0 177.5 1614.8 183.3 1616.5 190.0C1618.2 196.7 1619.6 203.8 1621.5 210.0C1623.4 216.2 1625.7 222.5 1627.8 227.5C1629.8 232.5 1632.1 237.5 1634.0 240.0C1635.9 242.5 1637.1 242.9 1639.0 242.5C1640.9 242.1 1643.2 240.8 1645.2 237.5C1647.3 234.2 1649.2 227.7 1651.5 222.5C1653.8 217.3 1656.5 210.8 1659.0 206.2C1661.5 201.7 1664.2 197.3 1666.5 195.0C1668.8 192.7 1670.7 191.9 1672.8 192.5C1674.8 193.1 1676.9 197.2 1679.0 198.8C1681.1 200.3 1682.8 202.6 1685.2 202.0C1687.8 201.4 1691.3 197.8 1694.0 195.0C1696.7 192.2 1699.0 189.6 1701.5 185.0C1704.0 180.4 1706.5 173.1 1709.0 167.5C1711.5 161.9 1714.0 156.0 1716.5 151.2C1719.0 146.5 1721.5 142.1 1724.0 138.8C1726.5 135.4 1728.6 133.1 1731.5 131.2C1734.4 129.4 1738.6 126.9 1741.5 127.5C1744.4 128.1 1746.1 132.7 1749.0 135.0C1751.9 137.3 1755.5 139.6 1759.0 141.2C1762.5 142.9 1766.1 144.8 1770.2 145.0C1774.4 145.2 1779.7 144.2 1784.0 142.5C1788.3 140.8 1792.3 135.6 1796.2 135.0C1800.2 134.4 1803.1 139.6 1807.5 138.8C1811.9 137.9 1817.3 132.6 1822.5 130.0C1827.7 127.4 1834.6 124.0 1838.8 123.2C1842.9 122.5 1844.4 126.0 1847.5 125.8C1850.6 125.5 1853.8 123.8 1857.5 122.0C1861.2 120.2 1866.5 116.4 1870.0 115.0C1873.5 113.6 1875.4 115.4 1878.8 113.8C1882.1 112.1 1886.5 106.8 1890.0 105.0C1893.5 103.2 1896.7 103.2 1900.0 103.2C1903.3 103.2 1906.5 103.2 1910.0 105.0C1913.5 106.8 1917.9 110.0 1921.2 113.8C1924.6 117.5 1926.9 121.0 1930.0 127.5C1933.1 134.0 1936.7 144.6 1940.0 152.5C1943.3 160.4 1946.7 168.3 1950.0 175.0C1953.3 181.7 1957.1 186.2 1960.0 192.5C1962.9 198.8 1965.2 206.0 1967.5 212.5C1969.8 219.0 1971.7 227.1 1973.8 231.2C1975.8 235.4 1977.9 237.7 1980.0 237.5C1982.1 237.3 1983.8 232.9 1986.2 230.0C1988.8 227.1 1992.3 220.8 1995.0 220.0C1997.7 219.2 1999.8 223.5 2002.5 225.0C2005.2 226.5 2008.3 229.6 2011.2 228.8C2014.2 227.9 2017.1 225.2 2020.0 220.0C2022.9 214.8 2026.2 203.3 2028.8 197.5C2031.2 191.7 2033.1 187.7 2035.0 185.0C2036.9 182.3 2038.3 181.2 2040.0 181.2C2041.7 181.2 2043.3 181.0 2045.0 185.0C2046.7 189.0 2048.3 197.1 2050.0 205.0C2051.7 212.9 2053.3 225.4 2055.0 232.5C2056.7 239.6 2058.5 244.6 2060.0 247.5C2061.5 250.4 2062.1 251.0 2063.8 250.0C2065.4 249.0 2067.7 243.3 2070.0 241.2C2072.3 239.2 2075.0 237.1 2077.5 237.5C2080.0 237.9 2082.5 241.9 2085.0 243.8C2087.5 245.6 2090.0 249.0 2092.5 248.8C2095.0 248.5 2097.5 244.9 2100.0 242.5C2102.5 240.1 2105.2 234.9 2107.5 234.5C2109.8 234.1 2111.7 235.8 2113.8 240.0C2115.8 244.2 2117.9 252.1 2120.0 260.0C2122.1 267.9 2124.4 280.0 2126.2 287.5C2128.1 295.0 2129.8 301.5 2131.2 305.0C2132.7 308.5 2133.5 309.6 2135.0 308.8C2136.5 307.9 2138.3 305.2 2140.0 300.0C2141.7 294.8 2143.1 283.8 2145.0 277.5C2146.9 271.2 2149.0 265.5 2151.2 262.5C2153.5 259.5 2156.0 261.0 2158.8 259.5C2161.5 258.0 2164.6 253.6 2167.5 253.2C2170.4 252.9 2173.3 255.1 2176.2 257.5C2179.2 259.9 2181.9 263.3 2185.0 267.5C2188.1 271.7 2191.7 276.7 2195.0 282.5C2198.3 288.3 2201.7 294.6 2205.0 302.5C2208.3 310.4 2211.7 320.0 2215.0 330.0C2218.3 340.0 2221.7 352.5 2225.0 362.5C2228.3 372.5 2232.1 381.8 2235.0 390.0C2237.9 398.2 2240.0 404.5 2242.5 412.0C2245.0 419.5 2247.5 428.5 2250.0 435.0C2252.5 441.5 2255.0 447.1 2257.5 451.2C2260.0 455.4 2263.1 456.0 2265.0 460.0C2266.9 464.0 2266.7 468.8 2268.8 475.0C2270.8 481.2 2275.2 490.8 2277.5 497.5C2279.8 504.2 2280.8 507.9 2282.5 515.0C2284.2 522.1 2285.8 530.8 2287.5 540.0C2289.2 549.2 2290.8 557.9 2292.5 570.0C2294.2 582.1 2295.8 597.1 2297.5 612.5C2299.2 627.9 2301.0 645.8 2302.5 662.5C2304.0 679.2 2305.2 695.8 2306.2 712.5C2307.3 729.2 2308.2 747.9 2309.0 762.5C2309.8 777.1 2310.0 785.4 2311.0 800.0C2312.0 814.6 2313.7 833.3 2315.0 850.0C2316.3 866.7 2317.9 883.3 2319.0 900.0C2320.1 916.7 2320.7 933.3 2321.5 950.0C2322.3 966.7 2323.2 983.3 2324.0 1000.0C2324.8 1016.7 2325.7 1033.3 2326.5 1050.0C2327.3 1066.7 2328.3 1083.3 2329.1 1100.0C2329.9 1116.7 2330.6 1133.3 2331.3 1150.0C2332.0 1166.7 2332.7 1181.7 2333.4 1200.0C2334.2 1218.3 2335.4 1250.0 2335.8 1260.0" stroke="#FF6E6E"/>
</g>
<line x1="557.5" y1="26.3" x2="558.5" y2="764" stroke="#000" stroke-width="3.1" stroke-dasharray="9.85 7.9"/>
<line x1="1638.5" y1="33" x2="1640.5" y2="714" stroke="#000" stroke-width="3.1" stroke-dasharray="9.85 7.9"/>
<line x1="1695.3" y1="27" x2="1700.8" y2="704" stroke="#000" stroke-width="3.1" stroke-dasharray="9.85 7.9"/>
<line x1="1839.5" y1="27" x2="1842.5" y2="685" stroke="#000" stroke-width="3.1" stroke-dasharray="9.85 7.9"/>
<line x1="1981.3" y1="27" x2="1978.3" y2="781" stroke="#000" stroke-width="3.1" stroke-dasharray="9.85 7.9"/>
<line x1="2012" y1="31" x2="2008.3" y2="768.5" stroke="#000" stroke-width="3.1" stroke-dasharray="9.85 7.9"/>
<line x1="2069.3" y1="33" x2="2072.6" y2="830" stroke="#000" stroke-width="3.1" stroke-dasharray="9.85 7.9"/>
<line x1="2141.3" y1="31" x2="2138.2" y2="884" stroke="#000" stroke-width="3.1" stroke-dasharray="9.85 7.9"/>
<line x1="450.0" y1="834.6" x2="517.6" y2="787.7" stroke="#960000" stroke-width="3.0"/><polygon points="543.9,769.4 521.2,796.4 510.7,781.2" fill="#960000"/>
<line x1="1523.3" y1="771.5" x2="1602.0" y2="726.3" stroke="#008000" stroke-width="3.0"/><polygon points="1629.8,710.4 1604.9,735.3 1595.7,719.3" fill="#008000"/>
<line x1="1791.6" y1="802.3" x2="1818.1" y2="735.7" stroke="#FF8000" stroke-width="3.0"/><polygon points="1829.9,706.0 1825.9,741.0 1808.7,734.2" fill="#FF8000"/>
<line x1="1832.0" y1="1005.0" x2="1951.2" y2="824.1" stroke="#808000" stroke-width="3.0"/><polygon points="1968.8,797.4 1957.8,830.9 1942.4,820.7" fill="#808000"/>
<line x1="1971.2" y1="906.2" x2="1995.5" y2="809.3" stroke="#009600" stroke-width="2.2"/><polygon points="2003.3,778.3 2004.0,813.5 1986.1,809.0" fill="#009600"/>
<text x="383.15" y="831.7" font-size="50" letter-spacing="0.3" text-anchor="middle" fill="#960000">3360</text>
<text x="386.15" y="883.7" font-size="50" letter-spacing="0.3" text-anchor="middle" fill="#960000">(OH)</text>
<text x="1451.55" y="815" font-size="50" letter-spacing="0.3" text-anchor="middle" fill="#008000">1634</text>
<text x="1442.75" y="871.4" font-size="50" letter-spacing="0.3" text-anchor="middle" fill="#008000">(OH)</text>
<text x="1710.45" y="761.6" font-size="50" letter-spacing="0.3" text-anchor="middle" fill="#960000">1519</text>
<text x="1763.55" y="859.8" font-size="50" letter-spacing="0.3" text-anchor="middle" fill="#FF8000">1320</text>
<text x="1754.95" y="914.3" font-size="50" letter-spacing="0.3" text-anchor="middle" fill="#FF8000">(Ce–O–Ce)</text>
<text x="1764.75" y="1030" font-size="50" letter-spacing="0.3" text-anchor="middle" fill="#808000">1110</text>
<text x="1768.55" y="1081.6" font-size="50" letter-spacing="0.3" text-anchor="middle" fill="#808000">(S=O)</text>
<text x="1970.75" y="970.5" font-size="50" letter-spacing="0.3" text-anchor="middle" fill="#009600">1056</text>
<text x="1979.85" y="1024.4" font-size="50" letter-spacing="0.3" text-anchor="middle" fill="#009600">(S–O)</text>
<text x="2068.15" y="885.8" font-size="50" letter-spacing="0.3" text-anchor="middle" fill="#960000">973</text>
<text x="2150.75" y="942.4" font-size="50" letter-spacing="0.3" text-anchor="middle" fill="#0000A0">870</text>
<text x="2227.75" y="1308.4" font-size="50" letter-spacing="0.3" text-anchor="middle" fill="#0000A0">610</text>
<text x="2212.15" y="1370.2" font-size="56" letter-spacing="0.3" text-anchor="middle" fill="#0000A0">(Ce–O)</text>
<line x1="220.5" y1="1127.4" x2="375.5" y2="1127.4" stroke="#FF6E6E" stroke-width="8" stroke-linecap="round"/>
<text x="394" y="1151.7" font-size="69.2" fill="#000">Adsorption</text>
<line x1="220.5" y1="1213" x2="375.5" y2="1213" stroke="#00FF66" stroke-width="8" stroke-linecap="round"/>
<text x="394" y="1237.1" font-size="69.2" fill="#000">Cycle 3</text>
<line x1="220.5" y1="1298" x2="375.5" y2="1298" stroke="#B338FF" stroke-width="8" stroke-linecap="round"/>
<text x="394" y="1322.5" font-size="69.2" fill="#000">Cycle 2</text>
<line x1="220.5" y1="1383.3" x2="375.5" y2="1383.3" stroke="#008080" stroke-width="8" stroke-linecap="round"/>
<text x="394" y="1408" font-size="69.2" fill="#000">Cycle 1</text>
</svg></body></html>
